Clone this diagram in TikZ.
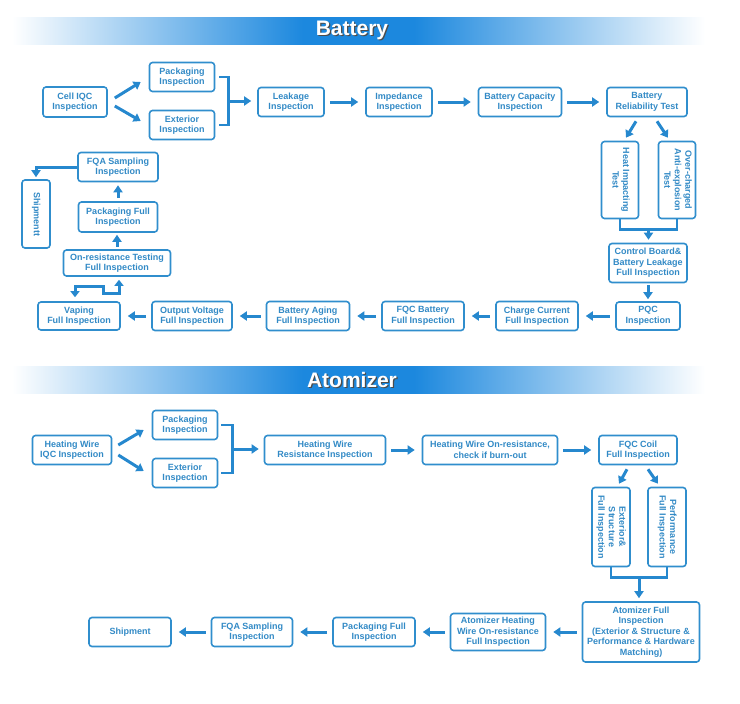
\documentclass[tikz,border=0pt]{standalone}
\usepackage{fontspec}
\setsansfont{Liberation Sans}
\usepackage{graphicx}
\usepackage{tikz}
\usetikzlibrary{arrows.meta,calc,positioning}

\definecolor{boxblue}{RGB}{48,142,205}
\definecolor{txtblue}{RGB}{50,138,198}
\definecolor{arrblue}{RGB}{38,136,206}
\definecolor{bannerblue}{RGB}{28,136,222}

% banner fade: white - blue - white
\pgfdeclarehorizontalshading{bannershade}{100bp}{color(0bp)=(white); color(25bp)=(white); color(46bp)=(bannerblue); color(54bp)=(bannerblue); color(75bp)=(white); color(100bp)=(white)}

% rotated (top-to-bottom) text for the tall boxes
\newcommand{\vtext}[1]{\rotatebox{-90}{\begin{tabular}{@{}c@{}}#1\end{tabular}}}

\begin{document}
\begin{tikzpicture}[
    x=1pt, y=-1pt,
    every node/.style={font=\fontsize{9}{10.6}\selectfont\sffamily\bfseries},
    % process boxes
    box/.style={
        rectangle,
        draw=boxblue,
        line width=1.6pt,
        rounded corners=3pt,
        fill=white,
        text=txtblue,
        align=center,
        inner sep=1pt,
        minimum height=29pt
    },
    % thick arrows and bracket lines
    flow/.style={draw=arrblue, line width=3pt, -{Triangle[length=7pt,width=9pt]}},
    hop/.style={flow, shorten <=5pt, shorten >=7pt},
    link/.style={draw=arrblue, line width=2.5pt},
    twoway/.style={draw=arrblue, line width=3pt, {Triangle[length=6pt,width=9pt]}-{Triangle[length=6pt,width=9pt]}},
    bantext/.style={font=\fontsize{21}{24}\selectfont\sffamily\bfseries, text=white}
]
\useasboundingbox (0,0) rectangle (740,704);

% Section banners
\foreach \y/\title/\name in {17/Battery/bat, 366/Atomizer/atom} {
    \shade[shading=bannershade] (12,\y) rectangle (705,\y+27);
    \node[bantext, text=black!70] at (353.2,\y+14.8) {\title};
    \node[bantext] (\name head) at (352,\y+13.5) {\title};
}

% ---------------- Battery ----------------
% first row
\node[box, minimum width=64pt, minimum height=30pt] (cell) at (75,102) {Cell IQC\\Inspection};
\node[box, minimum width=65pt] (pack) at (182,77) {Packaging\\Inspection};
\node[box, minimum width=65pt] (ext) at (182,125) {Exterior\\Inspection};
\node[box, minimum width=66pt] (leak) at (291,102) {Leakage\\Inspection};
\node[box, minimum width=66pt] (imp) at (399,102) {Impedance\\Inspection};
\node[box, minimum width=83pt] (cap) at (520,102) {Battery Capacity\\Inspection};
\node[box, minimum width=80pt] (rel) at (647,102) {Battery\\Reliability Test};

% reliability tests
\node[box, minimum width=37pt, minimum height=77pt] (heat) at (620,180) {\vtext{Heat Impacting\\Test}};
\node[box, minimum width=37pt, minimum height=77pt] (over) at (677,180) {\vtext{Over-charged\\Anti-explosion\\Test}};
\node[box, minimum width=78pt, minimum height=39pt] (ctrl) at (648,263) {Control Board\&\\Battery Leakage\\Full Inspection};
\node[box, minimum width=64pt, minimum height=28pt] (pqc) at (648,316) {PQC\\Inspection};

% second row, right to left
\node[box, minimum width=82pt] (charge) at (537,316) {Charge Current\\Full Inspection};
\node[box, minimum width=82pt] (fqcb) at (423,316) {FQC Battery\\Full Inspection};
\node[box, minimum width=83pt] (aging) at (308,316) {Battery Aging\\Full Inspection};
\node[box, minimum width=80pt] (outv) at (192,316) {Output Voltage\\Full Inspection};
\node[box, minimum width=82pt, minimum height=28pt] (vaping) at (79,316) {Vaping\\Full Inspection};

% left column, bottom up
\node[box, minimum width=107pt, minimum height=26pt] (onres) at (117,263) {On-resistance Testing\\Full Inspection};
\node[box, minimum width=79pt, minimum height=30pt] (packfull) at (118,217) {Packaging Full\\Inspection};
\node[box, minimum width=80pt] (fqa) at (118,167) {FQA Sampling\\Inspection};
\node[box, minimum width=28pt, minimum height=68pt] (ship) at (36,214) {\vtext{Shipmentt}};

% connectors
\draw[flow] ($(cell.east)+(7,-4)$) -- ($(pack.west)+(-8,5)$);
\draw[flow] ($(cell.east)+(7,4)$) -- ($(ext.west)+(-8,-4)$);
\draw[link] ($(pack.east)+(4,0)$) -- ++(9,0) |- ($(ext.east)+(4,0)$);
\coordinate (bjoin) at ($(pack.east)!0.5!(ext.east)+(13,0)$);
\draw[flow, shorten >=6pt] (bjoin) -- (bjoin -| leak.west);
\foreach \a/\b in {leak/imp, imp/cap, cap/rel}
    \draw[hop] (\a) -- (\b);
\draw[flow] ($(rel.south)+(-11,4)$) -- ($(heat.north)+(6,-3)$);
\draw[flow] ($(rel.south)+(10,4)$) -- ($(over.north)+(-9,-3)$);
\draw[link] (heat.south) -- ++(0,10) -| (over.south);
\coordinate (bmerge) at ($(heat.south)!0.5!(over.south)+(0,10)$);
\draw[flow, shorten >=3pt] (bmerge) -- (bmerge |- ctrl.north);
\draw[flow, shorten <=2pt, shorten >=2pt] (ctrl) -- (pqc);
\foreach \a/\b in {pqc/charge, charge/fqcb, fqcb/aging, aging/outv, outv/vaping}
    \draw[hop] (\a) -- (\b);
\draw[twoway] ($(vaping.north)+(-4,-4)$) -- ++(0,-11) -- ++(28,0) -- ++(0,7) -- ++(16,0) -- ($(onres.south)+(2,3)$);
\draw[flow, shorten <=2pt, shorten >=2pt] (onres.north) -- (onres.north |- packfull.south);
\draw[flow, shorten <=3pt, shorten >=3pt] (packfull) -- (fqa);
\draw[flow, shorten >=2pt] (fqa.west) -| (ship.north);

% ---------------- Atomizer ----------------
\node[box, minimum width=79pt] (hwiqc) at (72,450) {Heating Wire\\IQC Inspection};
\node[box, minimum width=65pt] (apack) at (185,425) {Packaging\\Inspection};
\node[box, minimum width=65pt] (aext) at (185,473) {Exterior\\Inspection};
\node[box, minimum width=121pt] (hwres) at (325,450) {Heating Wire\\Resistance Inspection};
\node[box, minimum width=135pt] (hwon) at (490,450) {Heating Wire On-resistance,\\check if burn-out};
\node[box, minimum width=78pt] (fqcc) at (638,450) {FQC Coil\\Full Inspection};
\node[box, minimum width=38pt, minimum height=79pt] (aexts) at (611,527) {\vtext{Exterior\&\\Structure\\Full Inspection}};
\node[box, minimum width=38pt, minimum height=79pt] (perf) at (667,527) {\vtext{Performance\\Full Inspection}};
\node[box, minimum width=117pt, minimum height=60pt] (afull) at (641,632) {Atomizer Full\\Inspection\\(Exterior \& Structure \&\\Performance \& Hardware\\Matching)};
\node[box, minimum width=95pt, minimum height=37pt] (awire) at (498,632) {Atomizer Heating\\Wire On-resistance\\Full Inspection};
\node[box, minimum width=82pt] (apackf) at (374,632) {Packaging Full\\Inspection};
\node[box, minimum width=81pt] (afqa) at (252,632) {FQA Sampling\\Inspection};
\node[box, minimum width=82pt] (aship) at (130,632) {Shipment};

% connectors
\draw[flow] ($(hwiqc.east)+(6,-5)$) -- ($(apack.west)+(-8,5)$);
\draw[flow] ($(hwiqc.east)+(6,5)$) -- ($(aext.west)+(-8,-2)$);
\draw[link] ($(apack.east)+(3,0)$) -- ++(11,0) |- ($(aext.east)+(3,0)$);
\coordinate (ajoin) at ($(apack.east)!0.5!(aext.east)+(14,0)$);
\draw[flow, shorten >=5pt] (ajoin) -- (ajoin -| hwres.west);
\foreach \a/\b in {hwres/hwon, hwon/fqcc}
    \draw[hop] (\a) -- (\b);
\draw[flow] ($(fqcc.south)+(-11,4)$) -- ($(aexts.north)+(8,-3)$);
\draw[flow] ($(fqcc.south)+(10,4)$) -- ($(perf.north)+(-9,-3)$);
\draw[link] (aexts.south) -- ++(0,10) -| (perf.south);
\coordinate (amerge) at ($(aexts.south)!0.5!(perf.south)+(0,10)$);
\draw[flow, shorten >=3pt] (amerge) -- (amerge |- afull.north);
\foreach \a/\b in {afull/awire, awire/apackf, apackf/afqa, afqa/aship}
    \draw[hop] (\a) -- (\b);

\end{tikzpicture}
\end{document}
